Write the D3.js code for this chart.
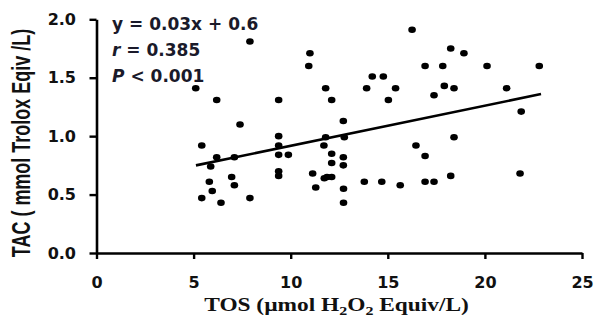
<!DOCTYPE html>
<html>
<head>
<meta charset="utf-8">
<script src="https://cdn.jsdelivr.net/npm/d3@7/dist/d3.min.js"></script>
<style>
  body { margin: 0; background: #fff; }
  svg { display: block; }
</style>
</head>
<body>
<div id="chart"></div>
<script>
// TOS (x) and TAC (y) for each subject
var tosValues = [7.90, 5.11, 6.19, 9.38, 10.99, 10.93, 11.80, 12.11, 13.91, 14.20,
  14.77, 15.03, 7.39, 12.71, 5.42, 9.38, 9.38, 9.38, 9.88, 6.19,
  7.10, 5.88, 11.80, 11.71, 12.76, 12.11, 12.11, 12.71, 12.71, 9.38,
  9.38, 6.96, 5.81, 7.10, 5.96, 5.42, 6.41, 7.90, 11.13, 11.73,
  11.87, 12.11, 11.29, 12.72, 12.72, 13.79, 14.69, 16.25, 18.24, 18.92,
  16.92, 17.83, 20.11, 22.80, 15.40, 17.91, 18.41, 21.12, 17.38, 21.87,
  18.41, 16.45, 16.92, 15.64, 16.92, 17.38, 18.24, 21.81];
var tacValues = [1.81, 1.41, 1.31, 1.31, 1.71, 1.60, 1.41, 1.31, 1.41, 1.51,
  1.51, 1.31, 1.10, 1.13, 0.92, 1.00, 0.92, 0.84, 0.84, 0.82,
  0.82, 0.74, 0.99, 0.92, 0.99, 0.85, 0.77, 0.82, 0.75, 0.70,
  0.66, 0.65, 0.61, 0.58, 0.53, 0.47, 0.43, 0.47, 0.68, 0.64,
  0.65, 0.65, 0.56, 0.55, 0.43, 0.61, 0.61, 1.91, 1.75, 1.71,
  1.60, 1.60, 1.60, 1.60, 1.41, 1.43, 1.41, 1.41, 1.35, 1.21,
  0.99, 0.92, 0.83, 0.58, 0.61, 0.61, 0.66, 0.68];

// regression line end points
var fitX = [5.12, 22.89];
var fitY = [0.75, 1.36];

var xTicks = [0, 5, 10, 15, 20, 25];
var yTicks = [0, 0.5, 1.0, 1.5, 2.0];
var statLines = [
  {lead: "y", rest: " = 0.03x + 0.6", italic: false},
  {lead: "r", rest: " = 0.385", italic: true},
  {lead: "P", rest: " < 0.001", italic: true}
];

var width = 596, height = 317;
var svg = d3.select('#chart').append('svg')
    .attr('width', width)
    .attr('height', height);

var x = d3.scaleLinear().domain([0, 25]).range([96.5, 582]);
var y = d3.scaleLinear().domain([0, 2]).range([253, 19.3]);

var points = tosValues.map(function(d, i) { return {tos: d, tac: tacValues[i]}; });
var fit = fitX.map(function(d, i) { return [d, fitY[i]]; });

//axes
var xAxis = d3.axisBottom(x).tickValues(xTicks).tickFormat(d3.format('d'))
    .tickSize(6).tickSizeOuter(0).tickPadding(18);
var yAxis = d3.axisLeft(y).tickValues(yTicks).tickFormat(d3.format('.1f'))
    .tickSize(7).tickSizeOuter(0).tickPadding(13.5);

var gx = svg.append('g')
    .attr('transform', 'translate(0,' + y(0) + ')')
    .call(xAxis);
var gy = svg.append('g')
    .attr('transform', 'translate(' + x(0) + ',0)')
    .call(yAxis);

[gx, gy].forEach(function(g) {
  g.select('.domain').attr('stroke', '#000').attr('stroke-width', 2.6);
  g.selectAll('.tick line').attr('stroke', '#000').attr('stroke-width', 2.4);
  g.selectAll('.tick text')
      .attr('fill', '#111')
      .style('font-family', '"DejaVu Sans", sans-serif')
      .style('font-weight', 'bold')
      .style('font-size', '16px');
});

//dots
svg.append('g').selectAll('ellipse').data(points)
  .enter().append('ellipse')
    .attr('cx', function(d) { return x(d.tos); })
    .attr('cy', function(d) { return y(d.tac); })
    .attr('rx', 3.8)
    .attr('ry', 3.3)
    .attr('fill', '#000');

//regression line
svg.append('path')
    .datum(fit)
    .attr('d', d3.line().x(function(d) { return x(d[0]); }).y(function(d) { return y(d[1]); }))
    .attr('stroke', '#000')
    .attr('stroke-width', 2.6)
    .attr('fill', 'none');

//stats text
var stats = svg.append('g')
    .style('font-family', '"DejaVu Sans", sans-serif')
    .style('font-weight', 'bold')
    .style('font-size', '17px')
    .attr('fill', '#1a1a2a');
statLines.forEach(function(s, i) {
  var t = stats.append('text')
      .attr('x', 112)
      .attr('y', 29.5 + i * 26);
  t.append('tspan').text(s.lead).style('font-style', s.italic ? 'italic' : 'normal');
  t.append('tspan').text(s.rest);
});

//x axis title
var xt = svg.append('text')
    .attr('transform', 'translate(336.5,311) scale(1.23,1)')
    .attr('text-anchor', 'middle')
    .style('font-family', '"Liberation Serif", "Times New Roman", serif')
    .style('font-weight', 'bold')
    .style('font-size', '19px')
    .attr('fill', '#111');
xt.append('tspan').text('TOS (\u00b5mol H');
xt.append('tspan').attr('dy', 4).style('font-size', '13px').text('2');
xt.append('tspan').attr('dy', -4).text('O');
xt.append('tspan').attr('dy', 4).style('font-size', '13px').text('2');
xt.append('tspan').attr('dy', -4).text(' Equiv/L)');

//y axis title
svg.append('text')
    .attr('transform', 'translate(21,143) rotate(-90) scale(1,1.4)')
    .attr('text-anchor', 'middle')
    .attr('dy', '0.36em')
    .style('font-family', '"Liberation Sans", Arial, sans-serif')
    .style('font-weight', 'bold')
    .style('font-size', '18px')
    .attr('fill', '#111')
    .text('TAC ( mmol Trolox Eqiv /L)');
</script>
</body>
</html>
